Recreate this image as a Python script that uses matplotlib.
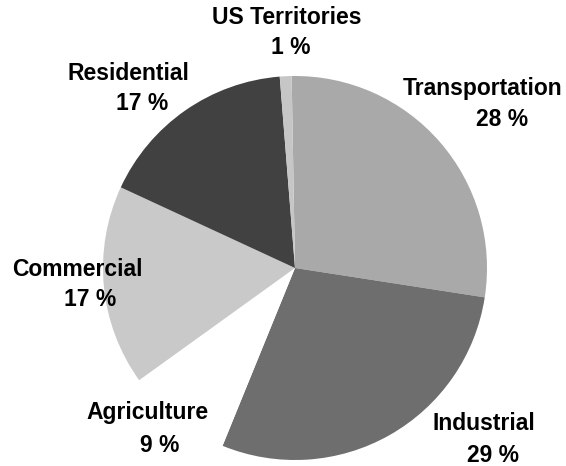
import matplotlib.pyplot as plt

sectors = ["Transportation", "Industrial", "Agriculture", "Commercial", "Residential", "US Territories"]
shares = [28, 29, 9, 17, 17, 1]
shade = ["#a9a9a9", "#6e6e6e", "#ffffff", "#c9c9c9", "#414141", "#c6c6c6"]

# label placement in image pixels (x, y of line 1 and line 2 centres)
label_px = {
    "Transportation": ((483, 88), (502, 120)),
    "Industrial": ((484, 423), (493, 455)),
    "Agriculture": ((147, 413), (160, 446)),
    "Commercial": ((77, 270), (90, 300)),
    "Residential": ((128, 73), (142, 103)),
    "US Territories": ((287, 18), (291, 48)),
}

W, H = 566, 466
fig = plt.figure(figsize=(W / 100, H / 100), dpi=100)
cx, cy, r = 295, 268, 192
ax = fig.add_axes([(cx - r) / W, (H - cy - r) / H, 2 * r / W, 2 * r / H])
ax.pie(shares, colors=shade, startangle=91, counterclock=False,
       wedgeprops=dict(linewidth=0), radius=1)
ax.set_xlim(-1, 1)
ax.set_ylim(-1, 1)
ax.set_aspect("equal")
ax.axis("off")

for name, val in zip(sectors, shares):
    (x1, y1), (x2, y2) = label_px[name]
    fig.text(x1 / W, 1 - y1 / H, name, ha="center", va="center",
             fontsize=16.5, fontweight="bold", family="Liberation Sans")
    fig.text(x2 / W, 1 - y2 / H, f"{val} %", ha="center", va="center",
             fontsize=16.5, fontweight="bold", family="Liberation Sans")

fig.savefig("out.png", dpi=100)
